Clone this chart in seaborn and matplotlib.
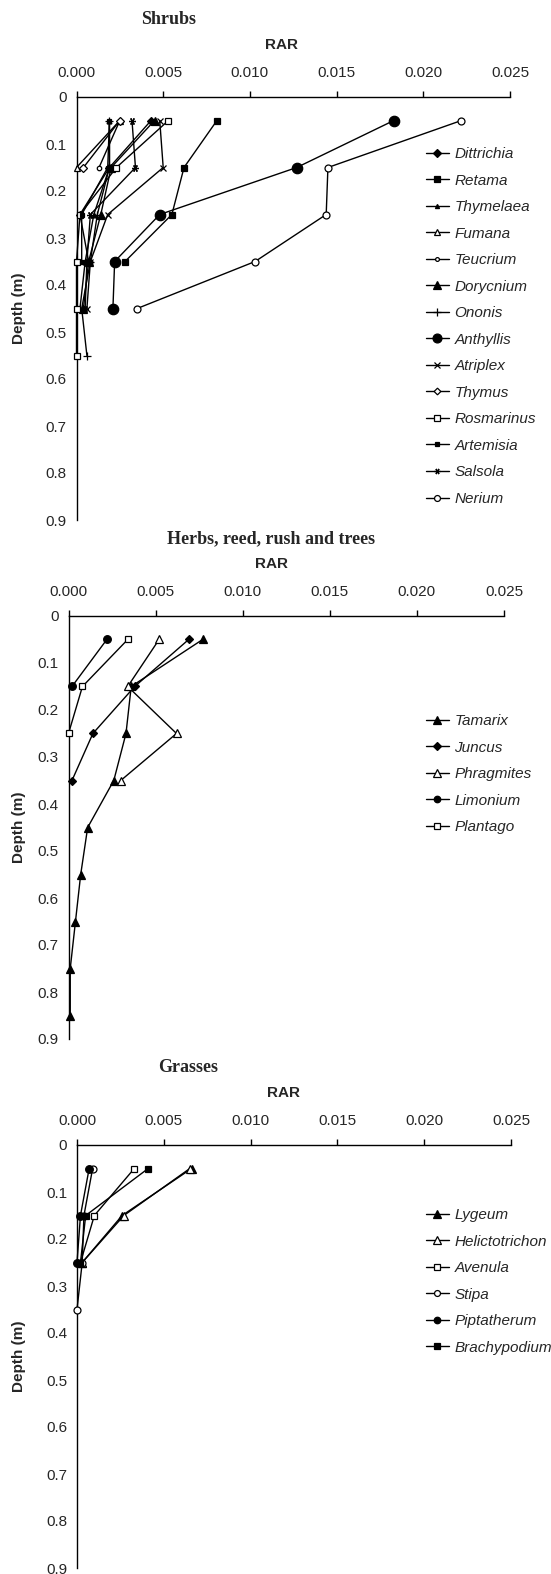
import numpy as np
import pandas as pd
import seaborn as sns
import matplotlib.pyplot as plt
from matplotlib.ticker import FuncFormatter

sns.set_style("white")
plt.rcParams['font.family'] = ['Liberation Sans', 'DejaVu Sans']

# depth of each sampled layer (m)
depths = [0.05, 0.15, 0.25, 0.35, 0.45, 0.55, 0.65, 0.75, 0.85]

# Shrubs: RAR per layer
shrub_names = ["Dittrichia", "Retama", "Thymelaea", "Fumana", "Teucrium", "Dorycnium",
               "Ononis", "Anthyllis", "Atriplex", "Thymus", "Rosmarinus", "Artemisia",
               "Salsola", "Nerium"]
dittrichia = [0.0043, 0.0019, 0.0002, 0.0007]
retama = [0.0081, 0.0062, 0.0055, 0.0028]
thymelaea = [0.0019, 0.0019, 0.0010, 0.0005, 0.0002]
fumana = [0.0025, 0.0000]
teucrium = [0.0025, 0.0013]
dorycnium = [0.0045, 0.0020, 0.0014, 0.0007, 0.0004]
ononis = [0.0019, 0.0019, 0.0012, 0.0008, 0.0003, 0.0006]
anthyllis = [0.0183, 0.0127, 0.0048, 0.0022, 0.0021]
atriplex = [0.0048, 0.0050, 0.0018, 0.0008, 0.0006]
thymus = [0.0025, 0.0004]
rosmarinus = [0.0053, 0.0023, 0.0002, 0.0000, 0.0000, 0.0000]
artemisia = [0.0019, 0.0018, 0.0003, 0.0003]
salsola = [0.0032, 0.0034, 0.0008, 0.0006, 0.0005]
nerium = [0.0222, 0.0145, 0.0144, 0.0103, 0.0035]
shrub_values = [dittrichia, retama, thymelaea, fumana, teucrium, dorycnium, ononis,
                anthyllis, atriplex, thymus, rosmarinus, artemisia, salsola, nerium]

# Herbs, reed, rush and trees
herb_names = ["Tamarix", "Juncus", "Phragmites", "Limonium", "Plantago"]
tamarix = [0.0077, 0.0036, 0.0033, 0.0026, 0.0011, 0.0007, 0.0004, 0.0001, 0.0001]
juncus = [0.0069, 0.0038, 0.0014, 0.0002]
phragmites = [0.0052, 0.0034, 0.0062, 0.0030]
limonium = [0.0022, 0.0002]
plantago = [0.0034, 0.0008, 0.0000]
herb_values = [tamarix, juncus, phragmites, limonium, plantago]

# Grasses
grass_names = ["Lygeum", "Helictotrichon", "Avenula", "Stipa", "Piptatherum", "Brachypodium"]
lygeum = [0.0066, 0.0026, 0.0003]
helictotrichon = [0.0065, 0.0027, 0.0003]
avenula = [0.0033, 0.0010, 0.0002]
stipa = [0.0009, 0.0004, 0.0003, 0.0000]
piptatherum = [0.0007, 0.0002, 0.0000]
brachypodium = [0.0041, 0.0005, 0.0002]
grass_values = [lygeum, helictotrichon, avenula, stipa, piptatherum, brachypodium]

# marker styles: (marker, filled, size)
shrub_marks = [("D", True, 4.5), ("s", True, 5), ("^", True, 3.5), ("^", False, 5),
               ("o", False, 3.2), ("^", True, 6), ("+", True, 6), ("o", True, 7.5),
               ("x", True, 4.5), ("D", False, 4), ("s", False, 5), ("s", True, 3.5),
               ((6, 2, 90), True, 5), ("o", False, 5)]
herb_marks = [("^", True, 6), ("D", True, 4.5), ("^", False, 6), ("o", True, 5.5), ("s", False, 5)]
grass_marks = [("^", True, 6), ("^", False, 6), ("s", False, 5), ("o", False, 5),
               ("o", True, 5.5), ("s", True, 5)]

W, H = 551, 1574
fig = plt.figure(figsize=(W / 100, H / 100), dpi=100)


def px_axes(x0, x1, y0, y1):
    return fig.add_axes([x0 / W, 1 - y1 / H, (x1 - x0) / W, (y1 - y0) / H])


def panel(x0, x1, y0, names, values, marks, title, title_x, rar_x, leg_x, leg_y):
    ax = px_axes(x0, x1, y0, y0 + 423)
    for name, vals, (m, filled, ms) in zip(names, values, marks):
        df = pd.DataFrame({"RAR": vals, "Depth": depths[:len(vals)]})
        sns.lineplot(data=df, x="RAR", y="Depth", ax=ax, orient="y", sort=False,
                     color="black", lw=1, marker=m, markersize=ms,
                     markerfacecolor="black" if filled else "white",
                     markeredgecolor="black", markeredgewidth=0.9, label=name,
                     clip_on=False, zorder=3)
    ax.set_xlim(0, 0.025)
    ax.set_ylim(0.9, 0)
    ax.set_xticks(np.arange(0, 0.0251, 0.005))
    ax.set_yticks(np.arange(0, 0.91, 0.1))
    ax.xaxis.set_major_formatter(FuncFormatter(lambda v, p: f"{v:.3f}"))
    ax.yaxis.set_major_formatter(FuncFormatter(lambda v, p: "0" if abs(v) < 1e-9 else f"{v:.1f}"))
    ax.xaxis.tick_top()
    ax.tick_params(axis="both", direction="out", length=4, width=1, color="black",
                   labelsize=11, pad=3)
    ax.tick_params(axis="x", pad=8)
    for s in ["right", "bottom"]:
        ax.spines[s].set_visible(False)
    for s in ["left", "top"]:
        ax.spines[s].set_color("black")
        ax.spines[s].set_linewidth(1)
    ax.set_xlabel("")
    ax.set_ylabel("")
    fig.text(19 / W, 1 - (y0 + 211) / H, "Depth (m)", rotation=90, ha="center", va="center",
             fontsize=11, fontweight="bold")
    fig.text(rar_x / W, 1 - (y0 - 52) / H, "RAR", ha="center", va="center",
             fontsize=11, fontweight="bold")
    fig.text(title_x / W, 1 - (y0 - 77) / H, title, ha="center", va="center",
             fontsize=13, fontweight="bold", family=["Liberation Serif", "DejaVu Serif"])
    leg = ax.legend(loc="upper left", bbox_to_anchor=(leg_x / W, 1 - leg_y / H),
                    bbox_transform=fig.transFigure, frameon=False, fontsize=11,
                    labelspacing=0.82, handlelength=1.5, handletextpad=0.35,
                    borderpad=0, borderaxespad=0, markerscale=0.85)
    for t in leg.get_texts():
        t.set_fontstyle("italic")
    return ax


panel(76.5, 510, 97, shrub_names, shrub_values, shrub_marks, "Shrubs", 169, 282, 426, 147)
panel(68.5, 504, 616, herb_names, herb_values, herb_marks,
      "Herbs, reed, rush and trees", 271, 272, 426, 714)
panel(77, 511, 1145, grass_names, grass_values, grass_marks, "Grasses", 188, 283, 426, 1208)

fig.savefig("out.png", dpi=100)
